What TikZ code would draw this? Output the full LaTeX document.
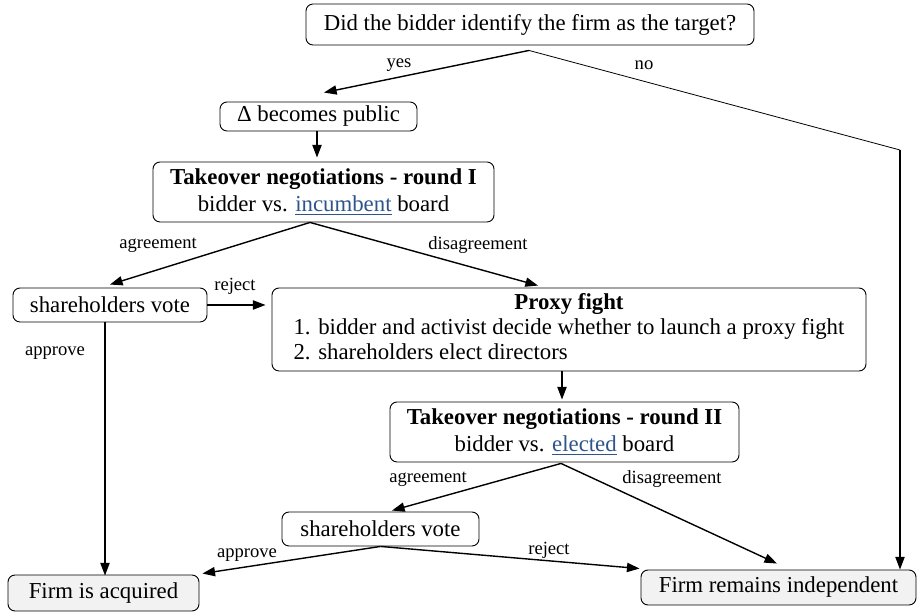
\documentclass[tikz,border=0pt]{standalone}
\usepackage{fontspec}
\setmainfont{Liberation Serif}
\usetikzlibrary{arrows.meta,calc}
\definecolor{linkblue}{RGB}{46,84,140}
\definecolor{endfill}{RGB}{242,242,242}
\begin{document}
\begin{tikzpicture}[x=0.5pt,y=-0.5pt,
  box/.style={draw, line width=0.45pt, rounded corners=3.5pt, fill=white, inner sep=0pt, align=center, font=\fontsize{11.4pt}{13.5pt}\selectfont},
  endbox/.style={box, fill=endfill},
  lbl/.style={inner sep=0pt, font=\fontsize{9.3pt}{11pt}\selectfont},
  arr/.style={line width=0.7pt, -{Triangle[length=6.3pt,width=4.6pt]}},
  thinline/.style={line width=0.4pt}]
\useasboundingbox (0,0) rectangle (917,613);
% nodes
\node[box, minimum width=224pt, minimum height=20.5pt] (q) at (530,24.5) {Did the bidder identify the firm as the target?};
\node[box, minimum width=98.5pt, minimum height=14.5pt] (delta) at (318.5,116.5) {Δ becomes public};
\node[box, minimum width=170.5pt, minimum height=30pt] (r1) at (323.5,192) {\textbf{Takeover negotiations - round I}\\bidder vs. \textcolor{linkblue}{\underline{incumbent}} board};
\node[box, minimum width=97pt, minimum height=17pt] (v1) at (110,305) {shareholders vote};
\node[box, minimum width=297pt, minimum height=41.5pt, font=\fontsize{11.4pt}{12.5pt}\selectfont] (proxy) at (569,329.5) {\begin{tabular}{@{}l@{}}\multicolumn{1}{@{}c@{}}{\textbf{Proxy fight}}\\1. bidder and activist decide whether to launch a proxy fight\\2. shareholders elect directors\end{tabular}};
\node[box, minimum width=174.5pt, minimum height=30pt] (r2) at (564.5,432) {\textbf{Takeover negotiations - round II}\\bidder vs. \textcolor{linkblue}{\underline{elected}} board};
\node[box, minimum width=98.5pt, minimum height=17pt] (v2) at (380.5,529) {shareholders vote};
\node[endbox, minimum width=95.5pt, minimum height=18pt] (acq) at (103.5,593) {Firm is acquired};
\node[endbox, minimum width=137.5pt, minimum height=17.5pt] (ind) at (778.5,587.5) {Firm remains independent};
% connectors
\coordinate (corner) at (900,150);
\draw[arr] ($(q.south)+(-1,5)$) -- ($(delta.north)+(5.5,-9)$);
\draw[thinline] ($(q.south)+(-1,5)$) -- (corner);
\draw[arr] (corner) -- (corner |- ind.north);
\draw[arr] ($(delta.south)+(-1.5,0)$) -- ($(r1.north)+(-6.5,-4)$);
\draw[arr] ($(r1.south)+(-13.5,0)$) -- ($(v1.north)+(0,-3)$);
\draw[arr] ($(r1.south)+(-13.5,0)$) -- ($(proxy.north)+(-31,-2)$);
\draw[arr] (v1.east) -- ($(v1.east -| proxy.west)+(-6,0)$);
\draw[arr] ($(v1.south)+(-5,0)$) -- ($(v1.south |- acq.north)+(-5,1)$);
\draw[arr] ($(proxy.south)+(-7,0)$) -- ($(proxy.south |- r2.north)+(-7,-2)$);
\draw[arr] ($(r2.south)+(-3.5,1)$) -- ($(v2.north)+(11.5,-1)$);
\draw[arr] ($(r2.south)+(-3.5,1)$) -- ($(ind.north)+(-1.5,-6)$);
\draw[arr] (v2.south) -- ($(acq.north east)+(3,-1)$);
\draw[arr] (v2.south) -- ($(ind.north west)+(-1,-1)$);
% labels
\node[lbl] (lyes) at (399,65) {yes};
\node[lbl] (lno) at (644,65) {no};
\node[lbl] (lagr1) at (158,245) {agreement};
\node[lbl] (ldis1) at (478,245) {disagreement};
\node[lbl] (lrej1) at (235,286) {reject};
\node[lbl] (lapp1) at (55,353) {approve};
\node[lbl] (lagr2) at (428,479) {agreement};
\node[lbl] (ldis2) at (672,479) {disagreement};
\node[lbl] (lapp2) at (247,555) {approve};
\node[lbl] (lrej2) at (549,550) {reject};
\end{tikzpicture}
\end{document}
